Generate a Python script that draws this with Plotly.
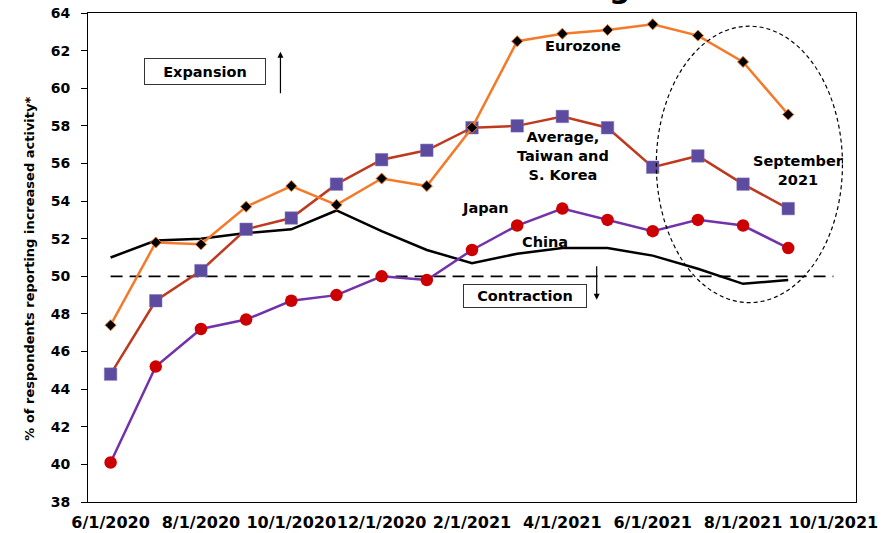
import plotly.graph_objects as go

# Monthly survey readings, June 2020 - September 2021
months = ["6/1/2020", "7/1/2020", "8/1/2020", "9/1/2020", "10/1/2020", "11/1/2020",
          "12/1/2020", "1/1/2021", "2/1/2021", "3/1/2021", "4/1/2021", "5/1/2021",
          "6/1/2021", "7/1/2021", "8/1/2021", "9/1/2021"]

eurozone = [47.4, 51.8, 51.7, 53.7, 54.8, 53.8, 55.2, 54.8, 57.9, 62.5, 62.9, 63.1,
            63.4, 62.8, 61.4, 58.6]
average_tw_kr = [44.8, 48.7, 50.3, 52.5, 53.1, 54.9, 56.2, 56.7, 57.9, 58.0, 58.5, 57.9,
                 55.8, 56.4, 54.9, 53.6]
japan = [40.1, 45.2, 47.2, 47.7, 48.7, 49.0, 50.0, 49.8, 51.4, 52.7, 53.6, 53.0,
         52.4, 53.0, 52.7, 51.5]
china = [51.0, 51.9, 52.0, 52.3, 52.5, 53.5, 52.4, 51.4, 50.7, 51.2, 51.5, 51.5,
         51.1, 50.4, 49.6, 49.8]

tick_labels = ["6/1/2020", "8/1/2020", "10/1/2020", "12/1/2020", "2/1/2021",
               "4/1/2021", "6/1/2021", "8/1/2021", "10/1/2021"]
y_ticks = list(range(38, 65, 2))
threshold = 50

FONT = "DejaVu Sans"
x_idx = list(range(len(months)))
label_pos = [2 * i for i in range(len(tick_labels))]
boundary_pos = [p - 0.5 for p in label_pos]

fig = go.Figure()

fig.add_trace(go.Scatter(
    x=x_idx, y=china, mode="lines", name="China",
    line=dict(color="#000000", width=2.5), hoverinfo="skip"))
fig.add_trace(go.Scatter(
    x=x_idx, y=japan, mode="lines+markers", name="Japan",
    line=dict(color="#7232AA", width=2.5),
    marker=dict(symbol="circle", size=12.5, color="#CC0000",
                line=dict(color="#CC0000", width=0)), hoverinfo="skip"))
fig.add_trace(go.Scatter(
    x=x_idx, y=average_tw_kr, mode="lines+markers", name="Average, Taiwan and S. Korea",
    line=dict(color="#BE3A1E", width=2.5),
    marker=dict(symbol="square", size=12.5, color="#5C4B9F",
                line=dict(color="#7E70B8", width=0.5)), hoverinfo="skip"))
fig.add_trace(go.Scatter(
    x=x_idx, y=eurozone, mode="lines+markers", name="Eurozone",
    line=dict(color="#F47A2A", width=2.5),
    marker=dict(symbol="diamond", size=8.5, color="#000000",
                line=dict(color="#F47A2A", width=1)), hoverinfo="skip"))

# 50 = no-change line between expansion and contraction
fig.add_shape(type="line", xref="x", yref="y", x0=0, x1=16, y0=threshold, y1=threshold,
              line=dict(color="#000000", width=1.8, dash="12px,7px"), layer="below")

# Dashed ellipse around the latest readings
fig.add_shape(type="circle", xref="x", yref="y", x0=12.08, x1=16.2, y0=48.6, y1=63.3,
              line=dict(color="#000000", width=1.2, dash="4px,3px"))

txt = dict(family=FONT, size=14.5, color="#000000", weight="bold")
labels = [
    ("Eurozone", 10.46, 62.25),
    ("Average,<br>Taiwan and<br>S. Korea", 10.02, 56.41),
    ("Japan", 8.29, 53.63),
    ("China", 9.62, 51.80),
    ("September<br>2021", 15.23, 55.65),
]
for text, xx, yy in labels:
    fig.add_annotation(x=xx, y=yy, xref="x", yref="y", text=text, showarrow=False,
                       font=txt, align="center")

# Boxed region labels
fig.add_annotation(x=2.1, y=60.87, xref="x", yref="y", text="Expansion", showarrow=False,
                   font=txt, width=120, height=25, bordercolor="#333333", borderwidth=1,
                   borderpad=0, bgcolor="white")
fig.add_annotation(x=9.17, y=48.97, xref="x", yref="y", text="Contraction", showarrow=False,
                   font=txt, width=122, height=22, bordercolor="#333333", borderwidth=1,
                   borderpad=0, bgcolor="white")

# Direction arrows
fig.add_annotation(x=3.76, y=61.94, ax=3.76, ay=59.65, xref="x", yref="y", axref="x", ayref="y",
                   text="", showarrow=True, arrowhead=2, arrowsize=1, arrowwidth=1.2,
                   arrowcolor="#000000")
fig.add_annotation(x=10.76, y=48.76, ax=10.76, ay=50.62, xref="x", yref="y", axref="x", ayref="y",
                   text="", showarrow=True, arrowhead=2, arrowsize=1, arrowwidth=1.2,
                   arrowcolor="#000000")

# Chart title (runs off the top edge)
fig.add_annotation(x=0.71, y=1, xref="paper", yref="paper", xanchor="right", yanchor="bottom",
                   yshift=6, text="Manufacturing", showarrow=False,
                   font=dict(family=FONT, size=30, color="#000000", weight="bold"))

# Vertical axis title
fig.add_annotation(x=-0.088, y=0.477, xref="paper", yref="paper", textangle=-90,
                   text="% of respondents reporting increased activity*", showarrow=False,
                   font=dict(family=FONT, size=13, color="#000000", weight="bold"))

fig.update_layout(
    width=891, height=533,
    margin=dict(l=88, r=35, t=13, b=31),
    paper_bgcolor="white", plot_bgcolor="white",
    showlegend=False,
    xaxis=dict(range=[-0.5, 16.5], tickvals=label_pos, ticktext=tick_labels,
               tickangle=0, automargin=False,
               ticks="outside", ticklen=6, tickcolor="rgba(0,0,0,0)",
               showgrid=False, zeroline=False,
               showline=True, linecolor="#000000", linewidth=1, mirror=True,
               tickfont=dict(family=FONT, size=16, color="#000000", weight="bold")),
    xaxis2=dict(range=[-0.5, 16.5], overlaying="x", anchor="y", tickvals=boundary_pos,
                showticklabels=False, ticks="outside", ticklen=5, tickcolor="#000000",
                tickwidth=1, showgrid=False, zeroline=False, showline=False),
    xaxis3=dict(range=[-0.5, 16.5], overlaying="x", anchor="y", tickvals=boundary_pos,
                showticklabels=False, ticks="inside", ticklen=3, tickcolor="#000000",
                tickwidth=1, showgrid=False, zeroline=False, showline=False),
    yaxis=dict(range=[38, 64], tickvals=y_ticks, ticks="outside", ticklen=6,
               automargin=False, ticklabelstandoff=8,
               tickcolor="#000000", showgrid=False, zeroline=False,
               showline=True, linecolor="#000000", linewidth=1, mirror=True,
               tickfont=dict(family=FONT, size=14, color="#000000", weight="bold")),
)

fig.write_html("out.html")
